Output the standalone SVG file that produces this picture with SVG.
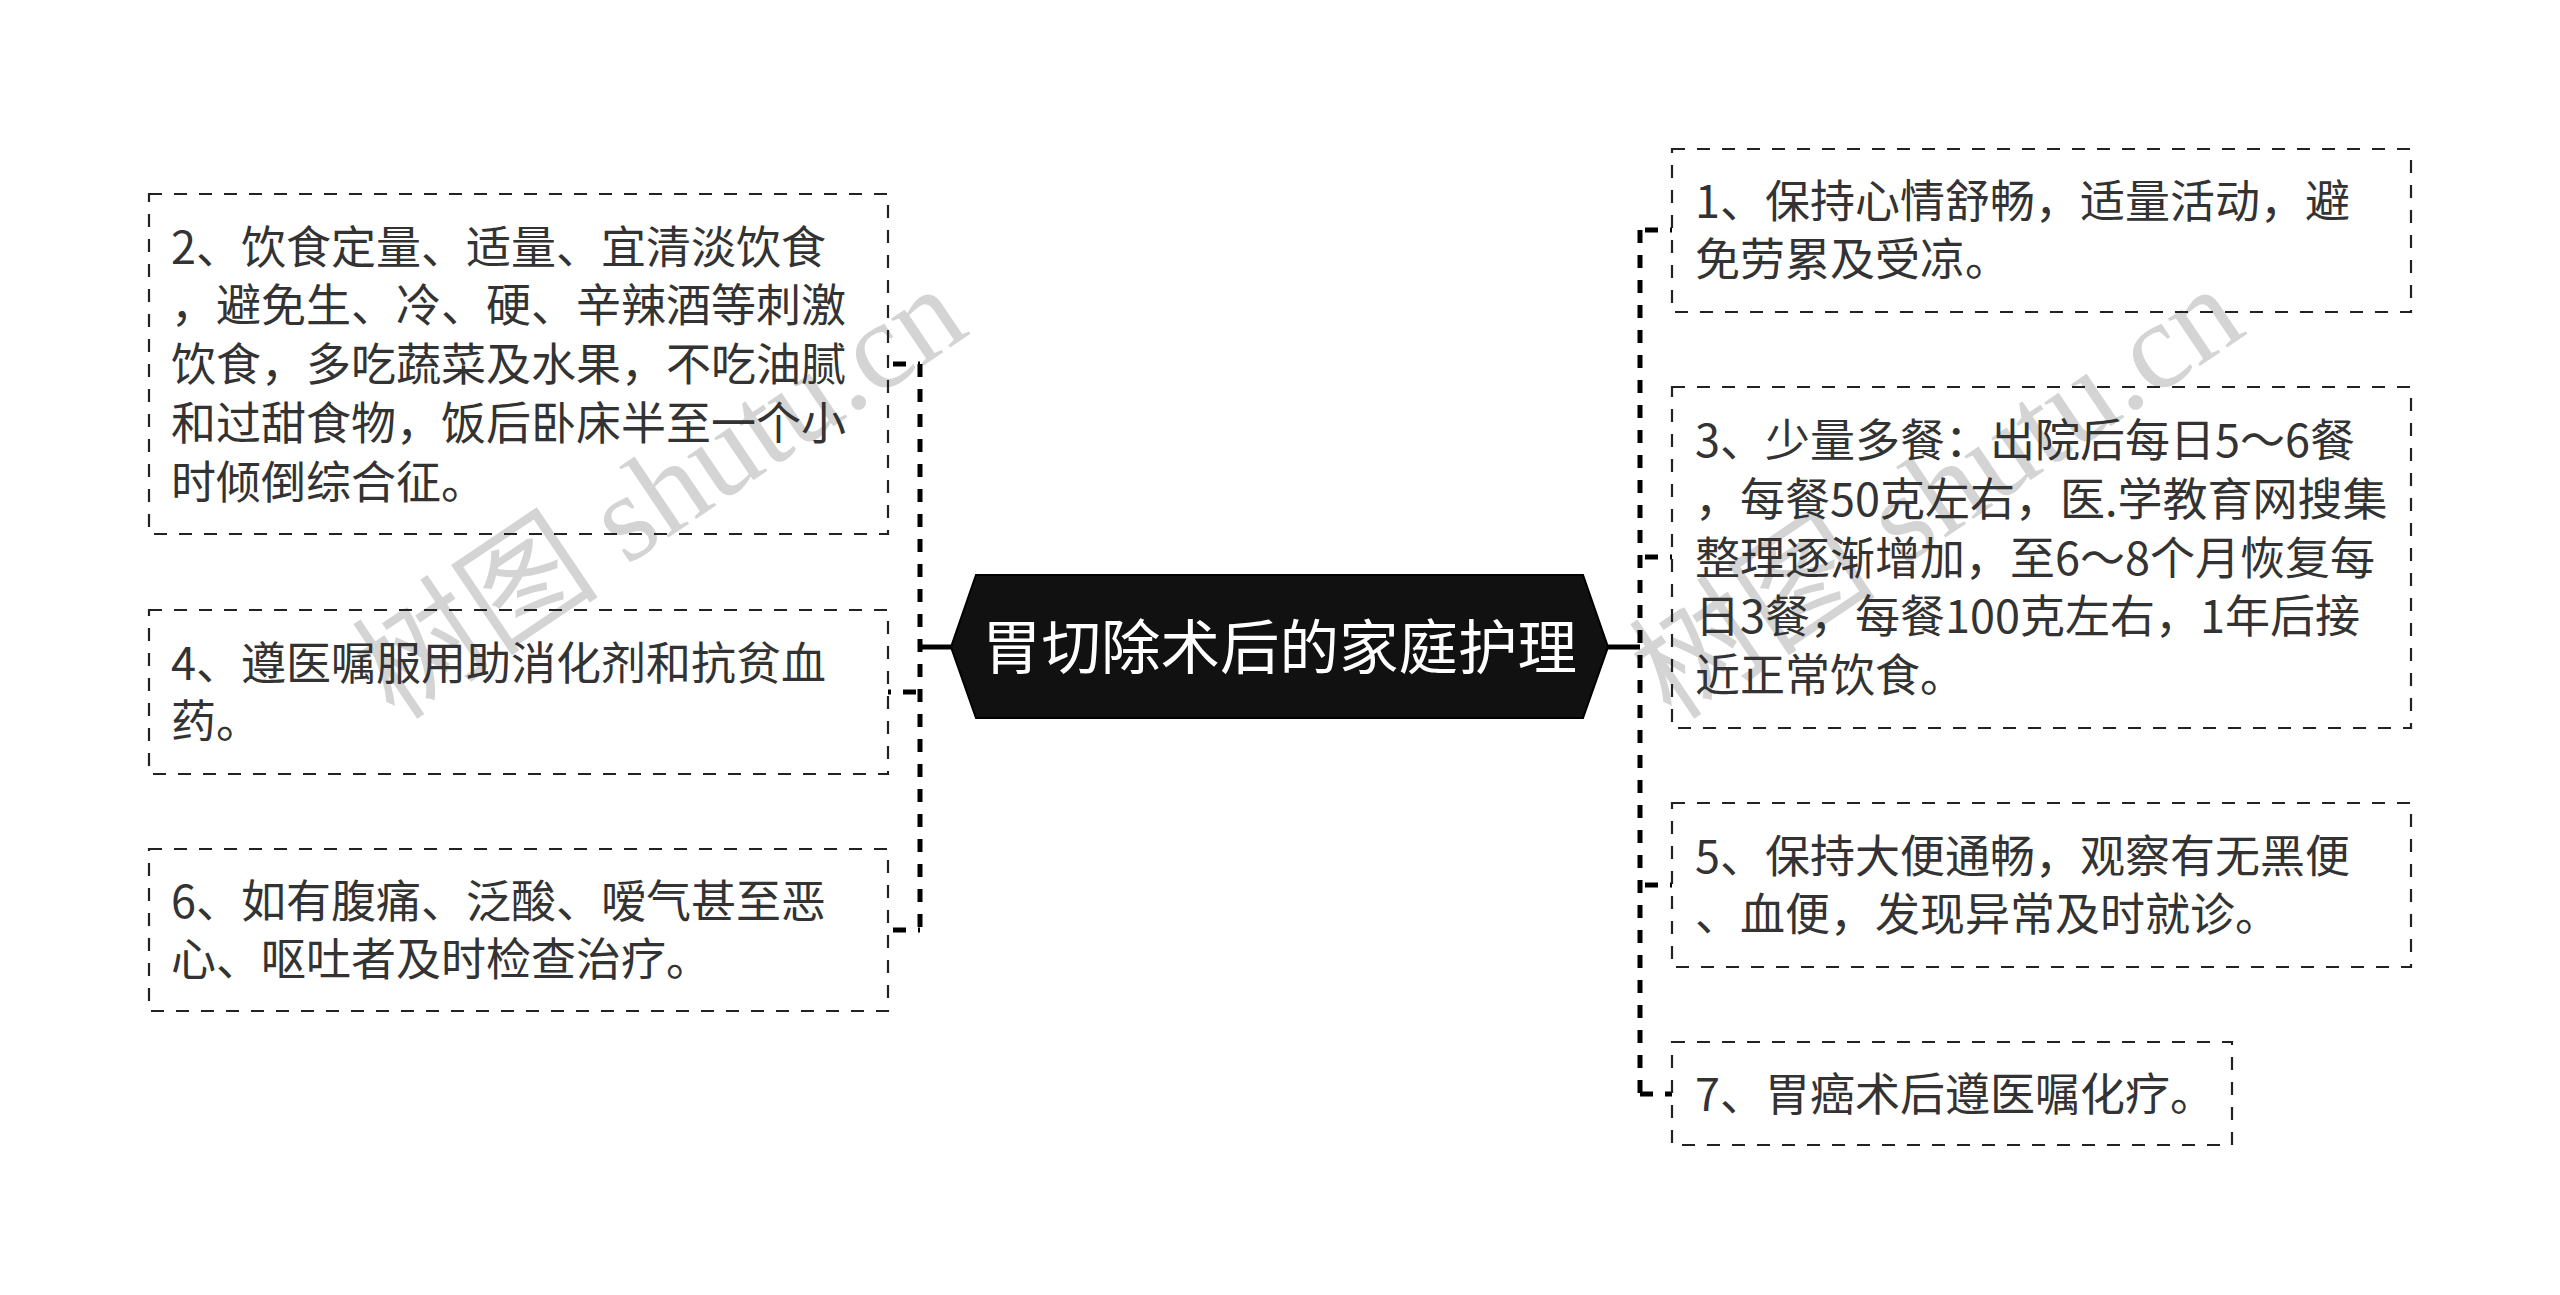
<svg xmlns="http://www.w3.org/2000/svg" width="2560" height="1295" viewBox="0 0 2560 1295">
<style>
.bg{fill:#ffffff}
.wm{font-family:"Liberation Serif","Noto Sans CJK SC",serif;font-size:124px;fill:#d4d4d4}
.box{fill:none;stroke:#222;stroke-width:2.2;stroke-dasharray:13 12}
.t{font-family:"Noto Sans CJK SC","Microsoft YaHei",sans-serif;font-size:45px;fill:#333}
.bus{fill:none;stroke:#000;stroke-width:5;stroke-dasharray:13 12}
.solid{fill:none;stroke:#000;stroke-width:5}
.hex{fill:#111;stroke:#000;stroke-width:2}
.ct{font-family:"Noto Sans CJK SC","Microsoft YaHei",sans-serif;font-size:59.5px;fill:#fff}
</style>
<rect class="bg" x="0" y="0" width="2560" height="1295"/>
<g id="watermarks">
<text class="wm" transform="translate(395 722) rotate(-34)">树图 shutu.cn</text>
<text class="wm" transform="translate(1672 722) rotate(-34)">树图 shutu.cn</text>
</g>
<g id="connectors">
<line class="solid" x1="920" y1="647" x2="952" y2="647"/>
<line class="bus" x1="920" y1="364" x2="920" y2="930"/>
<line class="bus" x1="888" y1="364" x2="920" y2="364" stroke-dashoffset="20"/>
<line class="bus" x1="888" y1="692" x2="920" y2="692" stroke-dashoffset="10"/>
<line class="bus" x1="888" y1="930" x2="920" y2="930" stroke-dashoffset="20"/>
<line class="solid" x1="1608" y1="647" x2="1640" y2="647"/>
<line class="bus" x1="1640" y1="230" x2="1640" y2="1094"/>
<line class="bus" x1="1640" y1="230" x2="1672" y2="230" stroke-dashoffset="20"/>
<line class="bus" x1="1640" y1="557" x2="1672" y2="557" stroke-dashoffset="20"/>
<line class="bus" x1="1640" y1="885" x2="1672" y2="885" stroke-dashoffset="20"/>
<line class="bus" x1="1640" y1="1094" x2="1672" y2="1094" stroke-dashoffset="0"/>
</g>
<g id="center">
<polygon class="hex" points="951,647 976,575 1583,575 1608,647 1583,718 976,718"/>
<text class="ct" x="1279.5" y="669" text-anchor="middle">胃切除术后的家庭护理</text>
</g>
<g id="node2">
<rect class="box" x="149" y="194" width="739" height="340"/>
<text class="t" x="171" y="263.5">2、饮食定量、适量、宜清淡饮食</text>
<text class="t" x="171" y="322">，避免生、冷、硬、辛辣酒等刺激</text>
<text class="t" x="171" y="381">饮食，多吃蔬菜及水果，不吃油腻</text>
<text class="t" x="171" y="440">和过甜食物，饭后卧床半至一个小</text>
<text class="t" x="171" y="499">时倾倒综合征。</text>
</g>
<g id="node4">
<rect class="box" x="149" y="610" width="739" height="164"/>
<text class="t" x="171" y="680">4、遵医嘱服用助消化剂和抗贫血</text>
<text class="t" x="171" y="738">药。</text>
</g>
<g id="node6">
<rect class="box" x="149" y="849" width="739" height="162"/>
<text class="t" x="171" y="918">6、如有腹痛、泛酸、嗳气甚至恶</text>
<text class="t" x="171" y="976">心、呕吐者及时检查治疗。</text>
</g>
<g id="node1">
<rect class="box" x="1672" y="149" width="739" height="163"/>
<text class="t" x="1695" y="218">1、保持心情舒畅，适量活动，避</text>
<text class="t" x="1695" y="276">免劳累及受凉。</text>
</g>
<g id="node3">
<rect class="box" x="1672" y="387" width="739" height="341"/>
<text class="t" x="1695" y="457">3、少量多餐：出院后每日5～6餐</text>
<text class="t" x="1695" y="516">，每餐50克左右，医.学教育网搜集</text>
<text class="t" x="1695" y="574.5">整理逐渐增加，至6～8个月恢复每</text>
<text class="t" x="1695" y="633">日3餐，每餐100克左右，1年后接</text>
<text class="t" x="1695" y="692">近正常饮食。</text>
</g>
<g id="node5">
<rect class="box" x="1672" y="803" width="739" height="164"/>
<text class="t" x="1695" y="873">5、保持大便通畅，观察有无黑便</text>
<text class="t" x="1695" y="931">、血便，发现异常及时就诊。</text>
</g>
<g id="node7">
<rect class="box" x="1672" y="1042" width="560" height="103"/>
<text class="t" x="1695" y="1111">7、胃癌术后遵医嘱化疗。</text>
</g>
</svg>
